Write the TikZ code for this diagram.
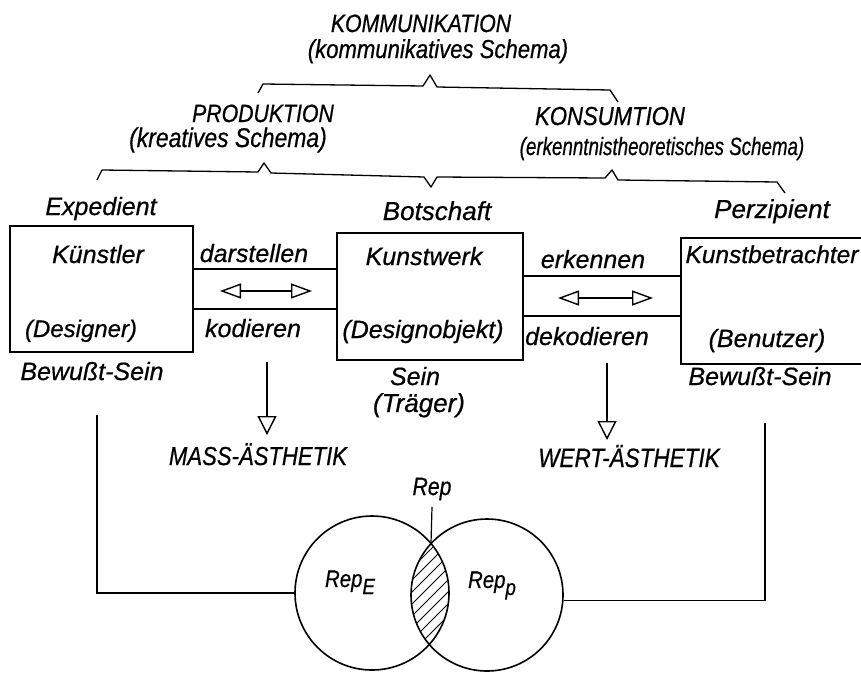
\documentclass[tikz,border=0pt]{standalone}
\usepackage{fontspec}
\setmainfont{Liberation Sans}[FakeBold=0.6]
\newfontfamily\condf{Liberation Sans}[FakeStretch=0.85, FakeBold=0.6]
\newfontfamily\condg{Liberation Sans}[FakeStretch=0.75, FakeBold=0.6]
\usetikzlibrary{arrows.meta}
\newcommand{\fsz}[1]{\itshape\fontsize{#1}{#1}\selectfont}
\begin{document}
\begin{tikzpicture}[x=1pt,y=-1pt, line width=1.4pt,
 lbl/.style={anchor=base, inner sep=0pt, font=\fsz{25}},
 boxn/.style={draw, line width=1.4pt, inner sep=0pt},
 brk/.style={line width=1.3pt, line join=round},
 tri/.style={-{Triangle[open,length=19pt,width=19pt]}},
 dtri/.style={{Triangle[open,length=21pt,width=15pt]}-{Triangle[open,length=21pt,width=15pt]}},
 circn/.style={circle, draw, line width=1.6pt, inner sep=0pt}
]
\clip (0,0) rectangle (861,675);
\fill[white] (0,0) rectangle (861,675);

% headings
\node[lbl, font=\condf\fsz{25}] (komm) at (421,32) {KOMMUNIKATION};
\node[lbl, font=\condf\fsz{26}] (kommS) at (438,58) {(kommunikatives Schema)};
\node[lbl, font=\condf\fsz{25}] (prod) at (263,122) {PRODUKTION};
\node[lbl, font=\condf\fsz{27}] (prodS) at (228,147) {(kreatives Schema)};
\node[lbl, font=\condf\fsz{26}] (kons) at (610,125) {KONSUMTION};
\node[lbl, font=\condg\fsz{25}] (konsS) at (662,155) {(erkenntnistheoretisches Schema)};

% brackets
\draw[brk] (258,93) -- (263,84) -- (423,86) -- (430,75) -- (437,87) -- (610,90) -- (618,102);
\draw[brk] (97,180) -- (102,170) -- (258,172) -- (264,163) -- (271,173) -- (424,177)
  -- (431,187) -- (437,177) -- (605,178) -- (612,170) -- (618,180) -- (777,182) -- (785,193);

% boxes
\node[boxn, minimum width=183pt, minimum height=126pt] (b1) at (101.5,289) {};
\node[boxn, minimum width=186pt, minimum height=127pt] (b2) at (430,296.5) {};
\node[boxn, minimum width=189pt, minimum height=126pt] (b3) at (775.5,301) {};

% labels around box 1
\node[lbl] (exp) at (101,215) {Expedient};
\node[lbl] (kue) at (98,263) {Künstler};
\node[lbl, font=\fsz{24}] (des) at (81,337) {(Designer)};
\node[lbl] (bs1) at (92,380) {Bewußt-Sein};

% labels around box 2
\node[lbl, font=\fsz{26}] (bot) at (437,220) {Botschaft};
\node[lbl] (kw) at (424,265) {Kunstwerk};
\node[lbl] (dobj) at (423,338) {(Designobjekt)};
\node[lbl] (sein) at (415,385) {Sein};
\node[lbl, font=\fsz{26}] (trae) at (419,412) {(Träger)};

% labels around box 3
\node[lbl, font=\fsz{26}] (perz) at (772,218) {Perzipient};
\node[lbl, font=\fsz{24.5}] (kb) at (772,263) {Kunstbetrachter};
\node[lbl] (ben) at (767,347) {(Benutzer)};
\node[lbl] (bs2) at (760,385) {Bewußt-Sein};

% channel 1
\coordinate (c1t) at (0,269);
\coordinate (c1b) at (0,309);
\draw (b1.east |- c1t) -- (b2.west |- c1t);
\draw (b1.east |- c1b) -- (b2.west |- c1b);
\node[lbl] (dar) at (254,262) {darstellen};
\node[lbl] (kod) at (253,337) {kodieren};
\coordinate (a1l) at (220,291);
\coordinate (a1r) at (312,291);
\draw[dtri] (a1l) -- (a1r);

% channel 2
\coordinate (c2t) at (0,276);
\coordinate (c2b) at (0,316);
\draw (b2.east |- c2t) -- (b3.west |- c2t);
\draw (b2.east |- c2b) -- (b3.west |- c2b);
\node[lbl] (erk) at (593,268) {erkennen};
\node[lbl] (dek) at (587,345) {dekodieren};
\coordinate (a2l) at (558,298);
\coordinate (a2r) at (653,298);
\draw[dtri] (a2l) -- (a2r);

% down arrows and aesthetics
\node[lbl, font=\condf\fsz{26}] (mass) at (258,465) {MASS-ÄSTHETIK};
\node[lbl, font=\condf\fsz{26.5}] (wert) at (629,467) {WERT-ÄSTHETIK};
\coordinate (d1s) at (267,362);
\coordinate (d1e) at (267,435);
\draw[tri] (d1s) -- (d1e);
\coordinate (d2s) at (607,363);
\coordinate (d2e) at (607,440);
\draw[tri] (d2s) -- (d2e);

% circles
\node[circn, minimum size=154pt] (lc) at (372,593) {};
\node[circn, minimum size=152pt] (rc) at (487,595) {};
\begin{scope}
  \clip (372,593) circle (77);
  \clip (487,595) circle (76);
  \foreach \k in {-9,...,7}
    \draw[line width=1pt] ({380+\k*12},660) -- ({510+\k*12},530);
\end{scope}
\node[lbl, font=\condf\fsz{24}] (repE) at (350,587) {Rep\raisebox{-7pt}{\fontsize{22}{22}\selectfont E}};
\node[lbl, font=\condf\fsz{24}] (repP) at (492,588) {Rep\raisebox{-7pt}{\fontsize{22}{22}\selectfont p}};
\node[lbl, font=\condf\fsz{25}] (rep) at (432,495) {Rep};
\coordinate (lenstop) at (431,543.6);
\draw[line width=1.2pt] ([yshift=-6pt]rep.south) -- (lenstop);

% outer loops
\coordinate (ltop) at (97,415);
\draw (ltop) |- (lc.west);
\coordinate (rtop) at (765,423);
\draw (rtop) |- (rc.-4);
\end{tikzpicture}
\end{document}
